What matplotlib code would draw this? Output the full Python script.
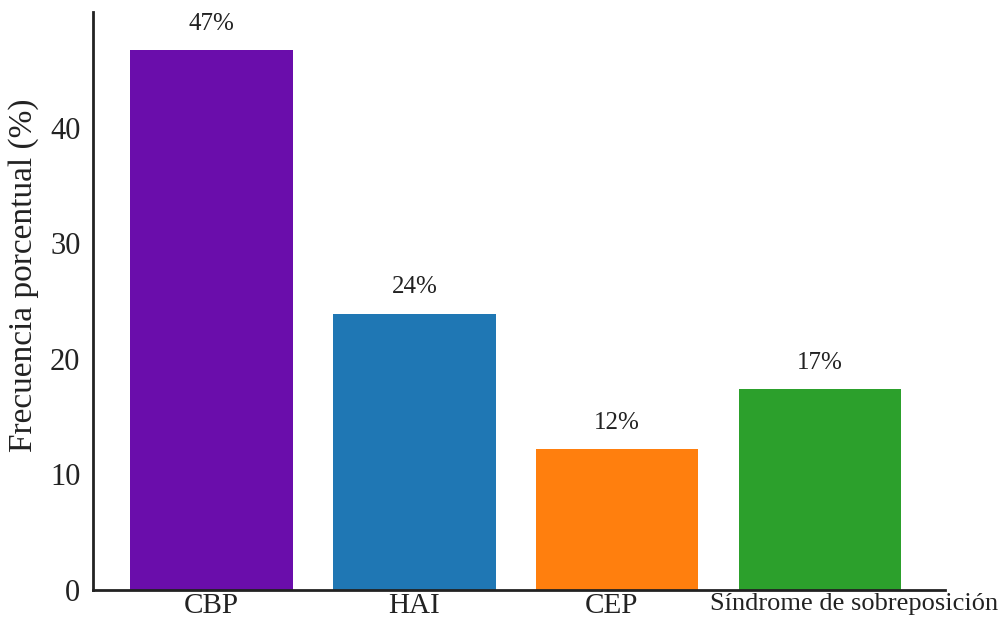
import matplotlib.pyplot as plt
import matplotlib.transforms as mtransforms

categories = ["CBP", "HAI", "CEP", "Síndrome de sobreposición"]
values = [46.7, 23.9, 12.2, 17.4]
labels = ["47%", "24%", "12%", "17%"]
colors = ["#6a0dab", "#1f77b4", "#ff7f0e", "#2ca02c"]

plt.rcParams['font.family'] = ['Liberation Serif', 'DejaVu Serif']

fig = plt.figure(figsize=(10.03, 6.19), dpi=100)
ax = fig.add_axes([0.0927, 0.0468, 0.849, 0.934])

x = range(len(categories))
bars = ax.bar(x, values, width=0.8, color=colors)

for b, lab in zip(bars, labels):
    ax.annotate(lab, (b.get_x() + b.get_width() / 2, b.get_height()),
                xytext=(0, 11), textcoords="offset points",
                ha="center", va="bottom", fontsize=18, color="#222222")

ax.set_xlim(-0.584, 3.613)
ax.set_ylim(0, 50)
ax.set_yticks([0, 10, 20, 30, 40])
ax.set_xticks(list(x))
ax.set_xticklabels(categories)
ax.tick_params(axis="y", labelsize=22, length=0, pad=9, colors="#222222")
ax.tick_params(axis="x", length=0, pad=2, colors="#222222")

# tick labels are not quite centred under the bars in the reference
shifts = [0, 0, -6, 34]
for t, dx in zip(ax.get_xticklabels(), shifts):
    t.set_fontsize(21)
    t.set_transform(t.get_transform() + mtransforms.ScaledTranslation(dx / 100, 0, fig.dpi_scale_trans))
ax.get_xticklabels()[3].set_fontsize(19)

ax.set_ylabel("Frecuencia porcentual (%)", fontsize=24, color="#222222")
ax.yaxis.set_label_coords(-0.063, 0.545)

ax.spines['right'].set_visible(False)
ax.spines['top'].set_visible(False)
for s in ['left', 'bottom']:
    ax.spines[s].set_linewidth(2)
    ax.spines[s].set_color("#222222")

plt.savefig('out.png', dpi=100)
